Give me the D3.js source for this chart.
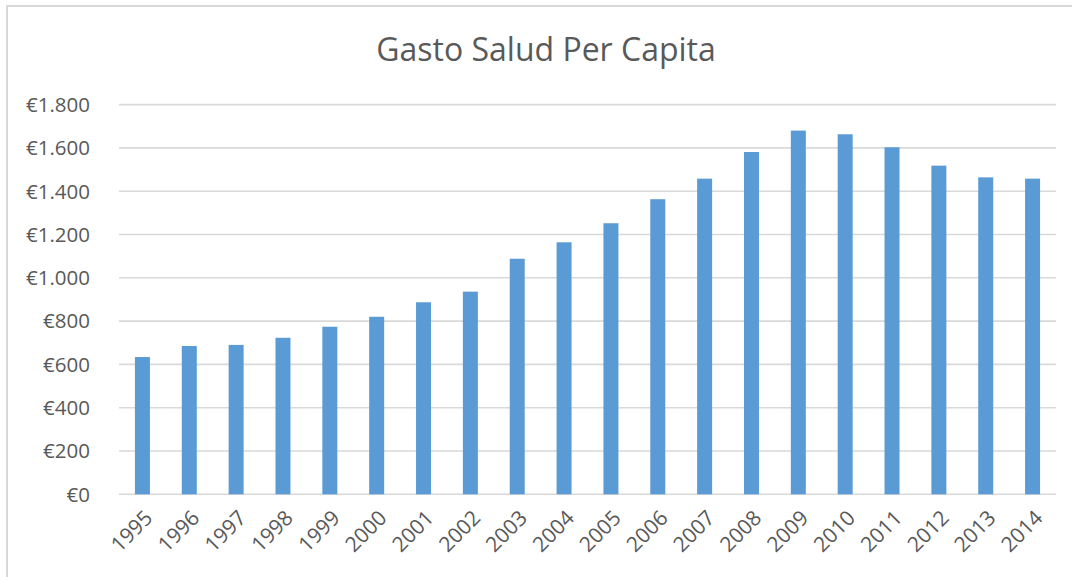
<!DOCTYPE html>
<html>
<head>
<meta charset="utf-8">
<script src="https://cdn.jsdelivr.net/npm/d3@7"></script>
<style>
  body { margin: 0; background: #fff; }
  .canvas { width: 1072px; height: 577px; }
  text { font-family: "Open Sans", "Liberation Sans", sans-serif; fill: #595959; }
</style>
</head>
<body>
<div class="canvas"></div>
<script>
// values (euros per capita)
var years = ['1995','1996','1997','1998','1999','2000','2001','2002','2003','2004',
             '2005','2006','2007','2008','2009','2010','2011','2012','2013','2014'];
var gasto = [634, 685, 690, 723, 774, 820, 887, 936, 1088, 1164,
             1252, 1363, 1458, 1581, 1680, 1663, 1603, 1518, 1464, 1458];
var yTicks = [0, 200, 400, 600, 800, 1000, 1200, 1400, 1600, 1800];

var width = 1072, height = 577;
var svg = d3.select('.canvas').append('svg')
	.attr('width', width).attr('height', height);

// chart border
svg.append('rect')
	.attr('x', 7).attr('y', 6)
	.attr('width', width).attr('height', height)
	.attr('fill', 'none').attr('stroke', '#d9d9d9').attr('stroke-width', 2);

svg.append('text')
	.attr('x', 546).attr('y', 61)
	.attr('text-anchor', 'middle')
	.style('font-size', '32px')
	.text('Gasto Salud Per Capita');

var x = d3.scaleBand().domain(years).range([119, 1056]).paddingInner(0.68).paddingOuter(0.34);
var y = d3.scaleLinear().domain([0, 1800]).range([494.3, 104.6]);

// gridlines
svg.append('g').selectAll('line')
	.data(yTicks)
	.enter().append('line')
	.attr('x1', 119).attr('x2', 1056)
	.attr('y1', d => y(d)).attr('y2', d => y(d))
	.attr('stroke', '#d9d9d9').attr('stroke-width', 1.6);

// y labels
var fmt = d3.formatLocale({decimal: ',', thousands: '.', grouping: [3], currency: ['€', '']}).format('$,.0f');
svg.append('g').selectAll('text')
	.data(yTicks)
	.enter().append('text')
	.attr('x', 90).attr('y', d => y(d))
	.attr('dy', '0.36em')
	.attr('text-anchor', 'end')
	.style('font-size', '20.5px')
	.text(d => fmt(d));

// bars
svg.append('g').selectAll('rect')
	.data(gasto)
	.enter().append('rect')
	.attr('x', (d, i) => x(years[i]))
	.attr('width', x.bandwidth())
	.attr('y', d => y(d))
	.attr('height', d => y(0) - y(d))
	.attr('fill', '#5b9bd5');

// rotated year labels
svg.append('g').selectAll('text')
	.data(years)
	.enter().append('text')
	.attr('transform', d => 'translate(' + (x(d) + x.bandwidth() / 2 + 6) + ',514) rotate(-45)')
	.attr('text-anchor', 'end')
	.attr('dy', '0.36em')
	.style('font-size', '21px')
	.text(d => d);
</script>
</body>
</html>
